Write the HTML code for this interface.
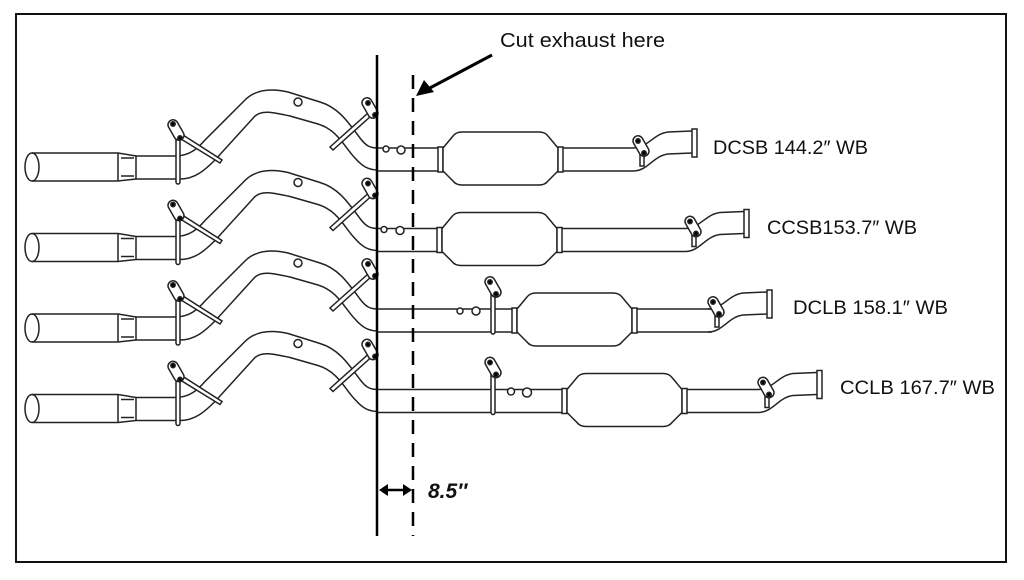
<!DOCTYPE html>
<html><head><meta charset="utf-8"><style>
html,body{margin:0;padding:0;background:#fff}
svg{display:block}
text{font-family:"Liberation Sans","DejaVu Sans",sans-serif;fill:#111}
</style></head><body>
<svg width="1024" height="580" viewBox="0 0 1024 580" xmlns="http://www.w3.org/2000/svg">
<defs>
<g id="left" fill="none" stroke="#222" stroke-width="1.5">
  <ellipse cx="32" cy="167" rx="7" ry="14" fill="#fff"/>
  <path d="M32,153 L118,153 L136,156 M32,181 L118,181 L136,179"/>
  <path d="M118,153 L118,181 M136,156 L136,179 M121,158 L134,158 M121,176 L134,176"/>
  <path d="M136,156 L175,156 C190,156 198,148 205,140 L245,100 C255,90 270,88 288,92 L320,102 C340,108 350,125 360,138 C366,146 370,148 378,148"/>
  <path d="M136,179 L180,179 C195,179 205,170 215,160 L255,116 C262,110 272,112 290,116 L318,124 C338,130 345,148 355,158 C362,166 368,170 378,170"/>
  <circle cx="298" cy="102" r="4" fill="#fff"/>
  <rect x="176" y="138" width="4" height="46" rx="2" fill="#fff"/>
  <path d="M183,135 L222,160 L220,163 L181,139 Z" fill="#fff"/>
  <g transform="rotate(-30 176 130)"><rect x="171" y="119" width="10" height="22" rx="5" fill="#fff"/></g>
  <circle cx="173" cy="124" r="2.2" fill="#000"/><circle cx="180" cy="138" r="2.2" fill="#000"/>
  <path d="M330,147 L368,113 L371,116 L333,150 Z" fill="#fff"/>
  <g transform="rotate(-30 370 108)"><rect x="365" y="97" width="10" height="22" rx="5" fill="#fff"/></g>
  <circle cx="368" cy="103" r="2.2" fill="#000"/><circle cx="375" cy="115" r="2.2" fill="#000"/>
</g>
<g id="muf" fill="#fff" stroke="#222" stroke-width="1.5">
  <rect x="0" y="147" width="5" height="25"/>
  <path d="M5,148 L15,136 Q18,132 24,132 L101,132 Q107,132 110,136 L120,148 L120,171 L110,181 Q107,185 101,185 L24,185 Q18,185 15,181 L5,171 Z"/>
  <rect x="120" y="147" width="5" height="25"/>
</g>
<g id="end" fill="none" stroke="#222" stroke-width="1.5">
  <path d="M0,148 C15,148 20,134 35,132 L59,131 M0,171 C15,171 20,156 35,154 L59,153"/>
  <rect x="59" y="129" width="5" height="28" fill="#fff"/>
  <rect x="7" y="150" width="4" height="16" fill="#fff"/>
  <g transform="rotate(-30 8 146)"><rect x="3" y="135" width="10" height="22" rx="5" fill="#fff"/></g>
  <circle cx="5" cy="141" r="2.2" fill="#000"/><circle cx="11" cy="153" r="2.2" fill="#000"/>
</g>
<g id="hang" fill="#fff" stroke="#222" stroke-width="1.5">
  <rect x="491" y="292" width="4" height="42" rx="2"/>
  <g transform="rotate(-30 493 287)"><rect x="488" y="276" width="10" height="22" rx="5"/></g>
  <circle cx="490" cy="282" r="2.2" fill="#000"/><circle cx="496" cy="294" r="2.2" fill="#000"/>
</g>
</defs>
<rect x="16" y="14" width="990" height="548" fill="none" stroke="#111" stroke-width="2"/>

<use href="#left"/>
<g fill="none" stroke="#222" stroke-width="1.5"><path d="M376,148 L438,148 M376,171 L438,171 M563,148 L633,148 M563,171 L633,171"/>
<circle cx="386" cy="149" r="3" fill="#fff"/><circle cx="401" cy="150" r="4" fill="#fff"/></g>
<use href="#muf" x="438"/><use href="#end" x="633"/>

<use href="#left" y="80.5"/>
<g transform="translate(0,80.5)" fill="none" stroke="#222" stroke-width="1.5"><path d="M376,148 L437,148 M376,171 L437,171 M562,148 L685,148 M562,171 L685,171"/>
<circle cx="384" cy="149" r="3" fill="#fff"/><circle cx="400" cy="150" r="4" fill="#fff"/></g>
<use href="#muf" x="437" y="80.5"/><use href="#end" x="685" y="80.5"/>

<use href="#left" y="161"/>
<g transform="translate(0,161)" fill="none" stroke="#222" stroke-width="1.5"><path d="M376,148 L512,148 M376,171 L512,171 M637,148 L712,148 M637,171 L712,171"/>
<circle cx="460" cy="150" r="3" fill="#fff"/><circle cx="476" cy="150" r="4" fill="#fff"/></g>
<use href="#hang"/>
<use href="#muf" x="512" y="161"/><use href="#end" x="708" y="161"/>

<use href="#left" y="241.5"/>
<g transform="translate(0,241.5)" fill="none" stroke="#222" stroke-width="1.5"><path d="M376,148 L562,148 M376,171 L562,171 M687,148 L758,148 M687,171 L758,171"/>
<circle cx="511" cy="150" r="3.5" fill="#fff"/><circle cx="527" cy="151" r="4.5" fill="#fff"/></g>
<use href="#hang" y="80.5"/>
<use href="#muf" x="562" y="241.5"/><use href="#end" x="758" y="241.5"/>

<line x1="377" y1="55" x2="377" y2="536" stroke="#000" stroke-width="2.5"/>
<line x1="413" y1="75" x2="413" y2="536" stroke="#000" stroke-width="2.5" stroke-dasharray="14,9"/>
<line x1="492" y1="55" x2="428" y2="89" stroke="#000" stroke-width="3"/>
<polygon points="416,96 424,80 434,92" fill="#000"/>
<line x1="382" y1="490" x2="409" y2="490" stroke="#000" stroke-width="2.5"/>
<polygon points="379,490 388,484 388,496" fill="#000"/><polygon points="412,490 403,484 403,496" fill="#000"/>

<text x="500" y="47" font-size="20.5" textLength="165" lengthAdjust="spacingAndGlyphs">Cut exhaust here</text>
<text x="713" y="154" font-size="19.5" textLength="155" lengthAdjust="spacingAndGlyphs">DCSB 144.2″ WB</text>
<text x="767" y="234" font-size="19.5" textLength="150" lengthAdjust="spacingAndGlyphs">CCSB153.7″ WB</text>
<text x="793" y="314" font-size="19.5" textLength="155" lengthAdjust="spacingAndGlyphs">DCLB 158.1″ WB</text>
<text x="840" y="394" font-size="19.5" textLength="155" lengthAdjust="spacingAndGlyphs">CCLB 167.7″ WB</text>
<text x="428" y="498" font-size="21" font-weight="bold" font-style="italic">8.5″</text>
</svg>
</body></html>
